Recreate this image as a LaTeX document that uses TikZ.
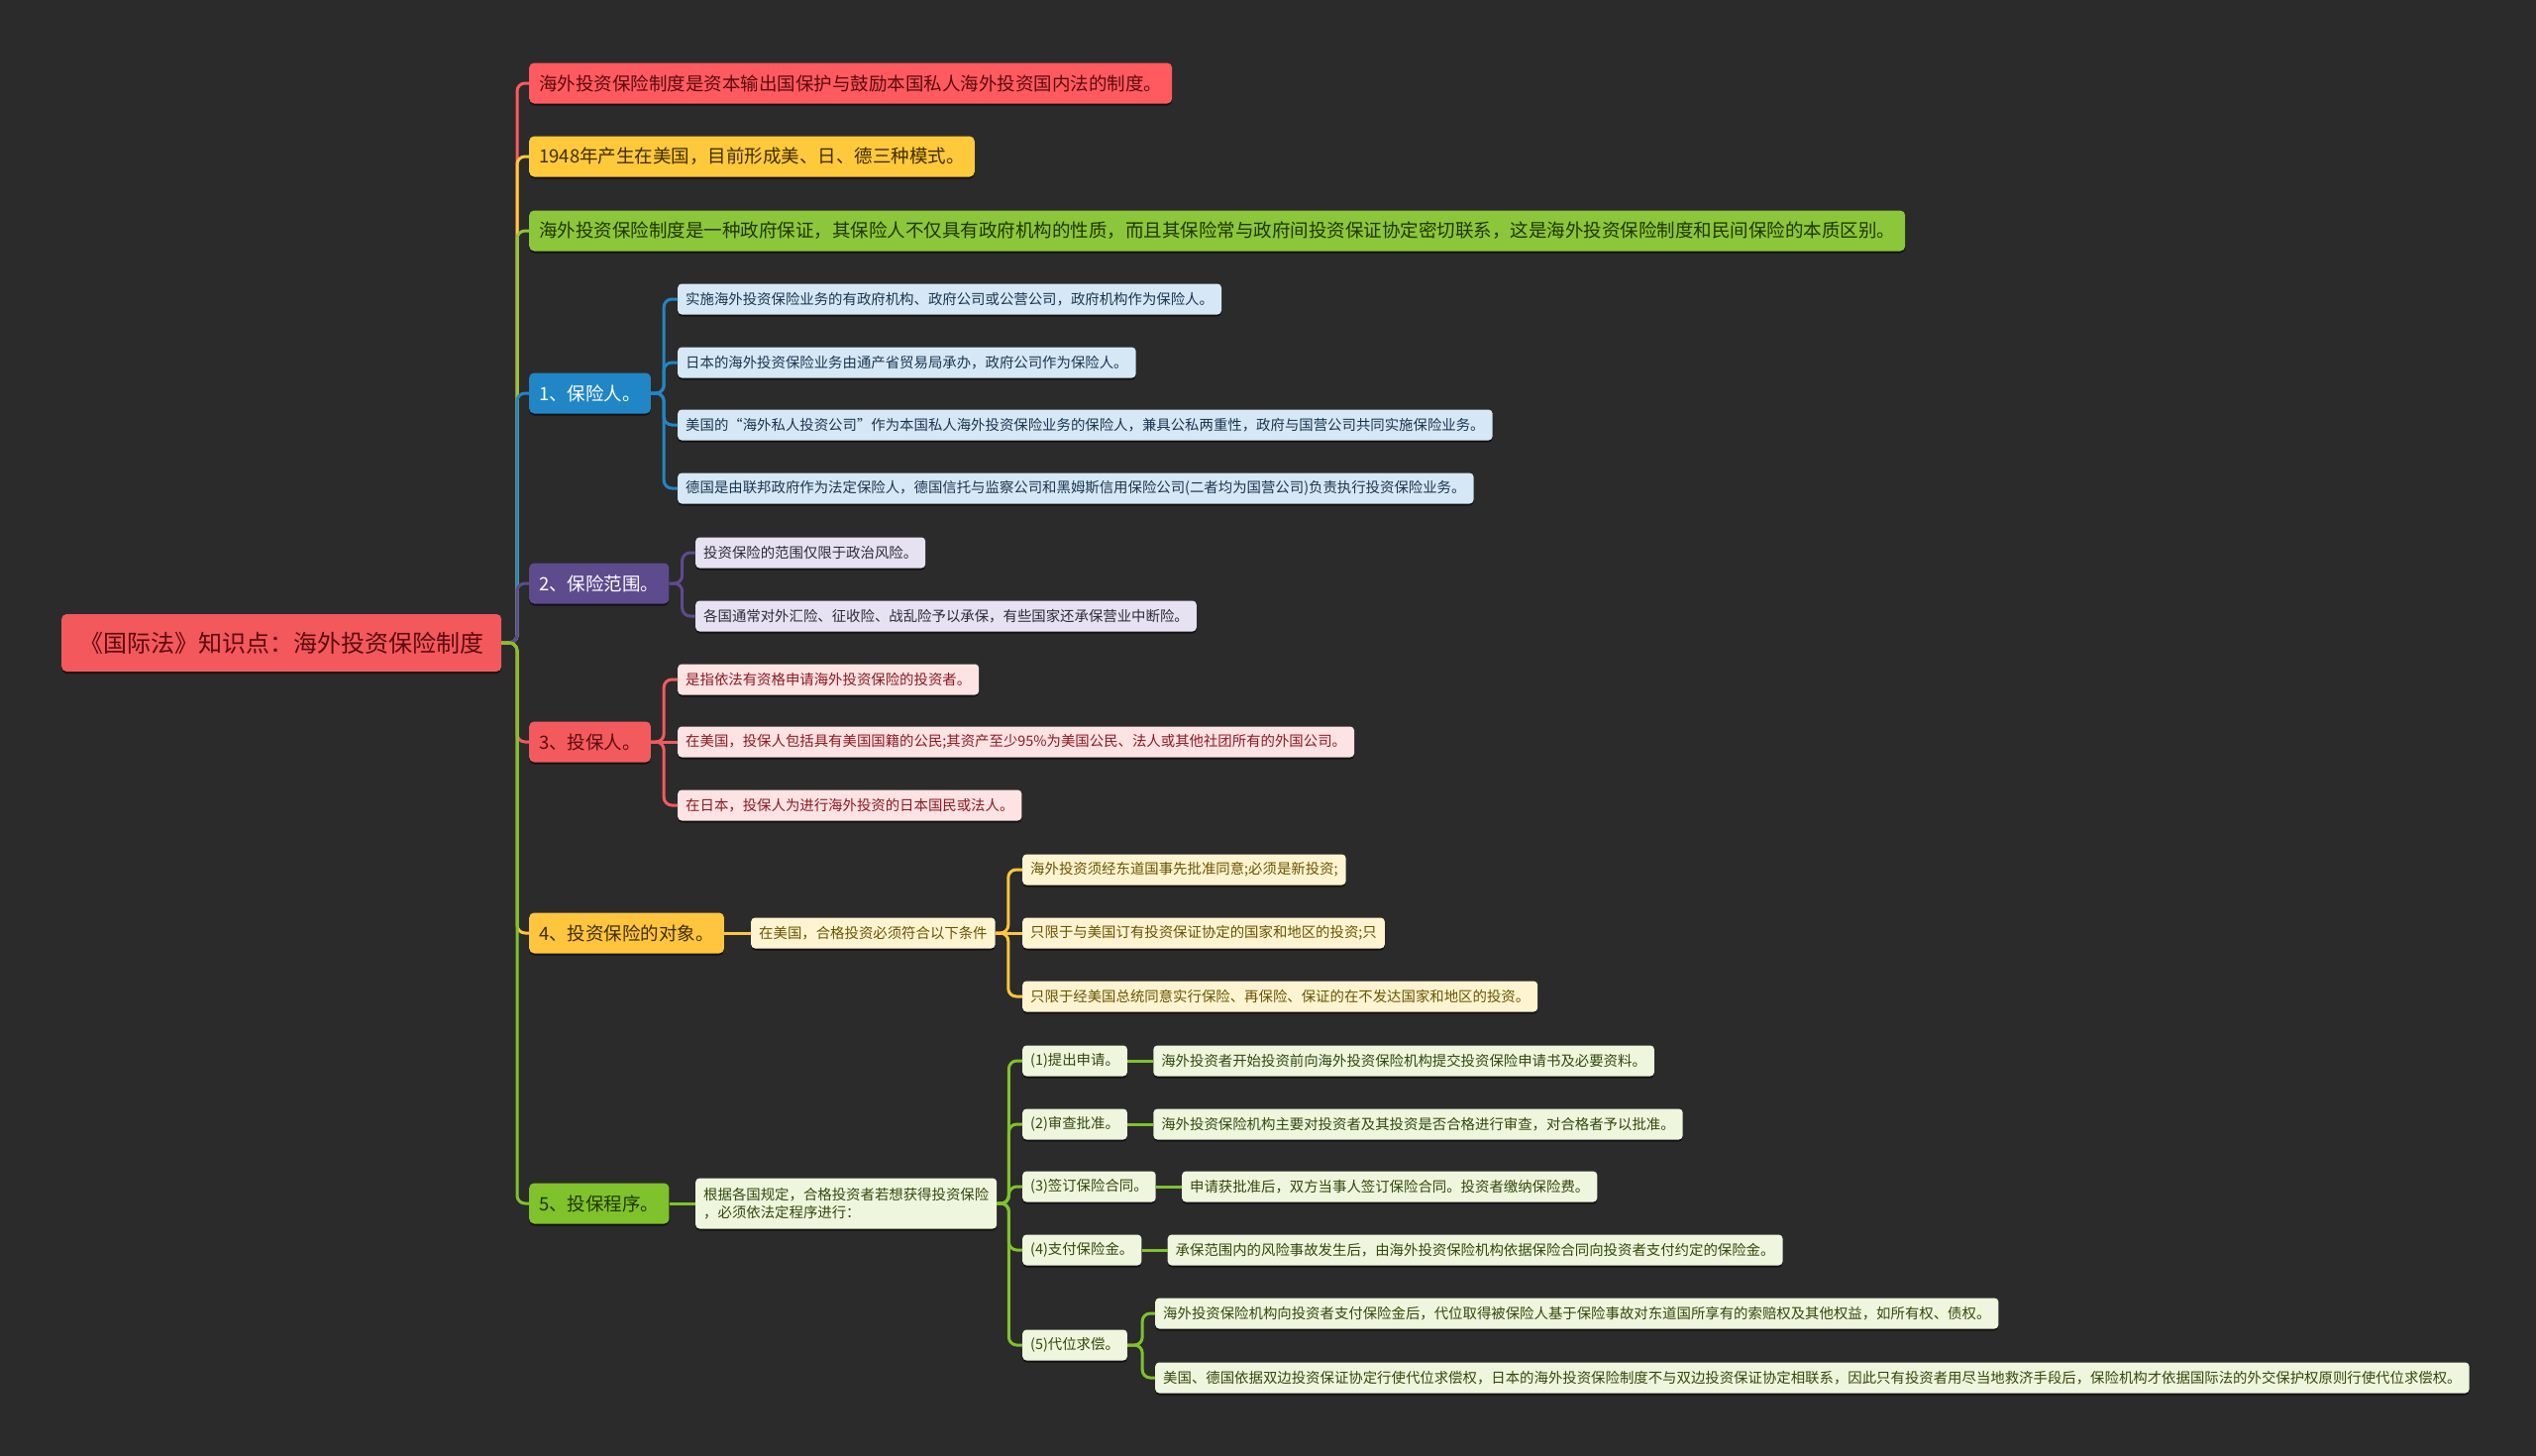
\documentclass[tikz,border=0pt]{standalone}
\usepackage{fontspec}
\setmainfont{Noto Sans CJK SC}
\usetikzlibrary{positioning,shadows}
\definecolor{bgcol}{HTML}{2B2B2B}
\definecolor{cRoot}{HTML}{F2585C}
\definecolor{cA}{HTML}{FF5A5F}
\definecolor{cB}{HTML}{FFC93C}
\definecolor{cC}{HTML}{8CC63A}
\definecolor{cD}{HTML}{2186C6}
\definecolor{cE}{HTML}{5E4B8D}
\definecolor{cF}{HTML}{F25A5E}
\definecolor{cG}{HTML}{FFC53E}
\definecolor{cH}{HTML}{7FC22C}
\definecolor{lD}{HTML}{D6E8F6}
\definecolor{lE}{HTML}{E6E2F2}
\definecolor{lF}{HTML}{FDE3E4}
\definecolor{lG}{HTML}{FFF4D2}
\definecolor{lH}{HTML}{EEF6DE}
\definecolor{tRed}{HTML}{5C0B0E}
\definecolor{tYel}{HTML}{3F2E00}
\definecolor{tGrn}{HTML}{203600}
\definecolor{tD}{HTML}{1B3550}
\definecolor{tE}{HTML}{2E2A3A}
\definecolor{tF}{HTML}{8C1A20}
\definecolor{tG}{HTML}{6B5300}
\definecolor{tH}{HTML}{34480C}
\begin{document}
\begin{tikzpicture}[x=1pt,y=-1pt,line join=round,
    box/.style={rounded corners=5pt,anchor=west,inner ysep=0pt,
      drop shadow={shadow xshift=0pt,shadow yshift=-2pt,opacity=0.55,fill=black}},
    rootbox/.style={box,fill=cRoot,text=tRed,minimum height=58pt,inner xsep=18pt,
      font=\fontsize{24}{28}\selectfont},
    topic/.style={box,minimum height=41pt,inner xsep=10pt,font=\fontsize{18.5}{22}\selectfont},
    leaf/.style={box,rounded corners=4pt,minimum height=31pt,inner xsep=8pt,
      font=\fontsize{14.4}{18}\selectfont},
    link/.style={line width=3pt,rounded corners=8pt}]
  \fill[bgcol] (0,0) rectangle (2560,1470);
  \useasboundingbox (0,0) rectangle (2560,1470);

  \node[rootbox] (root) at (62,649) {《国际法》知识点：海外投资保险制度};

  \node[topic,fill=cA,text=tRed] (A) at (534,84) {海外投资保险制度是资本输出国保护与鼓励本国私人海外投资国内法的制度。};
  \node[topic,fill=cB,text=tYel] (B) at (534,158) {1948年产生在美国，目前形成美、日、德三种模式。};
  \node[topic,fill=cC,text=tGrn] (C) at (534,233) {海外投资保险制度是一种政府保证，其保险人不仅具有政府机构的性质，而且其保险常与政府间投资保证协定密切联系，这是海外投资保险制度和民间保险的本质区别。};
  \node[topic,fill=cD,text=white] (D) at (534,397) {1、保险人。};
  \node[topic,fill=cE,text=white] (E) at (534,589) {2、保险范围。};
  \node[topic,fill=cF,text=tRed] (F) at (534,749) {3、投保人。};
  \node[topic,fill=cG,text=tYel] (G) at (534,942) {4、投资保险的对象。};
  \node[topic,fill=cH,text=tGrn] (H) at (534,1215) {5、投保程序。};

  % 1 保险人
  \node[leaf,fill=lD,text=tD] (D1) at (684,302) {实施海外投资保险业务的有政府机构、政府公司或公营公司，政府机构作为保险人。};
  \node[leaf,fill=lD,text=tD] (D2) at (684,366) {日本的海外投资保险业务由通产省贸易局承办，政府公司作为保险人。};
  \node[leaf,fill=lD,text=tD] (D3) at (684,429) {美国的“海外私人投资公司”作为本国私人海外投资保险业务的保险人，兼具公私两重性，政府与国营公司共同实施保险业务。};
  \node[leaf,fill=lD,text=tD] (D4) at (684,493) {德国是由联邦政府作为法定保险人，德国信托与监察公司和黑姆斯信用保险公司(二者均为国营公司)负责执行投资保险业务。};

  % 2 保险范围
  \node[leaf,fill=lE,text=tE] (E1) at (702,558) {投资保险的范围仅限于政治风险。};
  \node[leaf,fill=lE,text=tE] (E2) at (702,622) {各国通常对外汇险、征收险、战乱险予以承保，有些国家还承保营业中断险。};

  % 3 投保人
  \node[leaf,fill=lF,text=tF] (F1) at (684,686) {是指依法有资格申请海外投资保险的投资者。};
  \node[leaf,fill=lF,text=tF] (F2) at (684,749) {在美国，投保人包括具有美国国籍的公民;其资产至少95\%为美国公民、法人或其他社团所有的外国公司。};
  \node[leaf,fill=lF,text=tF] (F3) at (684,813) {在日本，投保人为进行海外投资的日本国民或法人。};

  % 4 投资保险的对象
  \node[leaf,fill=lG,text=tG] (Gm) at (758,942) {在美国，合格投资必须符合以下条件};
  \node[leaf,fill=lG,text=tG] (G1) at (1032,878) {海外投资须经东道国事先批准同意;必须是新投资;};
  \node[leaf,fill=lG,text=tG] (G2) at (1032,942) {只限于与美国订有投资保证协定的国家和地区的投资;只};
  \node[leaf,fill=lG,text=tG] (G3) at (1032,1006) {只限于经美国总统同意实行保险、再保险、保证的在不发达国家和地区的投资。};

  % 5 投保程序
  \node[leaf,fill=lH,text=tH,minimum height=51pt,align=left] (Hm) at (702,1215) {根据各国规定，合格投资者若想获得投资保险\\，必须依法定程序进行：};
  \node[leaf,fill=lH,text=tH] (H1) at (1032,1071) {(1)提出申请。};
  \node[leaf,fill=lH,text=tH] (H2) at (1032,1135) {(2)审查批准。};
  \node[leaf,fill=lH,text=tH] (H3) at (1032,1198) {(3)签订保险合同。};
  \node[leaf,fill=lH,text=tH] (H4) at (1032,1262) {(4)支付保险金。};
  \node[leaf,fill=lH,text=tH] (H5) at (1032,1358) {(5)代位求偿。};
  \node[leaf,fill=lH,text=tH,right=26pt of H1] (H1a) {海外投资者开始投资前向海外投资保险机构提交投资保险申请书及必要资料。};
  \node[leaf,fill=lH,text=tH,right=26pt of H2] (H2a) {海外投资保险机构主要对投资者及其投资是否合格进行审查，对合格者予以批准。};
  \node[leaf,fill=lH,text=tH,right=26pt of H3] (H3a) {申请获批准后，双方当事人签订保险合同。投资者缴纳保险费。};
  \node[leaf,fill=lH,text=tH,right=26pt of H4] (H4a) {承保范围内的风险事故发生后，由海外投资保险机构依据保险合同向投资者支付约定的保险金。};
  \node[leaf,fill=lH,text=tH] (H5a) at (1166,1326) {海外投资保险机构向投资者支付保险金后，代位取得被保险人基于保险事故对东道国所享有的索赔权及其他权益，如所有权、债权。};
  \node[leaf,fill=lH,text=tH] (H5b) at (1166,1391) {美国、德国依据双边投资保证协定行使代位求偿权，日本的海外投资保险制度不与双边投资保证协定相联系，因此只有投资者用尽当地救济手段后，保险机构才依据国际法的外交保护权原则行使代位求偿权。};

  % connectors
  \foreach \t/\c in {A/cA,B/cB,C/cC,D/cD,E/cE,F/cF,G/cG,H/cH}
    \draw[link,\c] (root.east) -- (522,649) |- (\t.west);
  \foreach \k in {D1,D2,D3,D4}
    \draw[link,cD] (D.east) -- ++(13,0) |- (\k.west);
  \foreach \k in {E1,E2}
    \draw[link,cE] (E.east) -- ++(13,0) |- (\k.west);
  \foreach \k in {F1,F3}
    \draw[link,cF] (F.east) -- ++(13,0) |- (\k.west);
  \draw[link,cF] (F.east) -- (F2.west);
  \draw[link,cG] (G.east) -- (Gm.west);
  \foreach \k in {G1,G3}
    \draw[link,cG] (Gm.east) -- ++(13,0) |- (\k.west);
  \draw[link,cG] (Gm.east) -- (G2.west);
  \draw[link,cH] (H.east) -- (Hm.west);
  \foreach \k in {H1,H2,H3,H4,H5}
    \draw[link,cH] (Hm.east) -- ++(12,0) |- (\k.west);
  \foreach \k in {1,2,3,4}
    \draw[link,cH] (H\k.east) -- (H\k a.west);
  \foreach \k in {H5a,H5b}
    \draw[link,cH] (H5.east) -- ++(15,0) |- (\k.west);
\end{tikzpicture}
\end{document}
